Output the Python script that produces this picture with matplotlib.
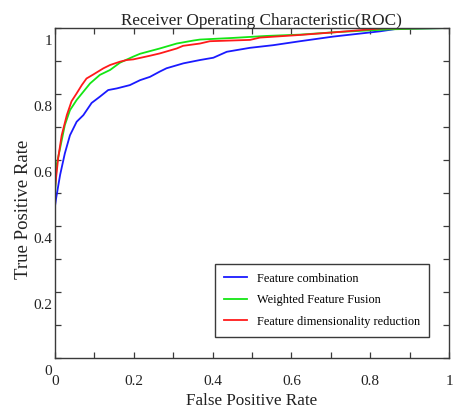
import numpy as np
import matplotlib
matplotlib.use('Agg')
import matplotlib.pyplot as plt
from matplotlib.transforms import ScaledTranslation

plt.rcParams['font.family'] = 'Liberation Serif'

# ROC points for each method
fpr_comb = [0, 0, 0.003, 0.013, 0.025, 0.038, 0.055, 0.072, 0.093, 0.114, 0.135, 0.157,
            0.19, 0.216, 0.241, 0.266, 0.283, 0.326, 0.368, 0.402, 0.436, 0.495, 0.554,
            0.622, 0.706, 0.825, 0.87, 1.0]
tpr_comb = [0, 0.46, 0.485, 0.555, 0.62, 0.675, 0.716, 0.736, 0.773, 0.792, 0.812, 0.817,
            0.827, 0.842, 0.852, 0.868, 0.878, 0.893, 0.903, 0.91, 0.928, 0.94, 0.948,
            0.96, 0.974, 0.99, 0.998, 1.0]

fpr_wff = [0, 0, 0.004, 0.013, 0.025, 0.038, 0.055, 0.072, 0.089, 0.114, 0.14, 0.157, 0.165,
           0.198, 0.216, 0.241, 0.266, 0.309, 0.351, 0.368, 0.452, 0.537, 0.622, 0.72, 0.85, 1.0]
tpr_wff = [0, 0.494, 0.585, 0.636, 0.706, 0.751, 0.782, 0.807, 0.832, 0.858, 0.873, 0.888, 0.895,
           0.913, 0.922, 0.93, 0.938, 0.953, 0.962, 0.965, 0.97, 0.976, 0.98, 0.988, 0.996, 1.0]

fpr_dim = [0, 0, 0.008, 0.017, 0.03, 0.042, 0.055, 0.068, 0.08, 0.097, 0.123, 0.14, 0.165,
           0.182, 0.199, 0.241, 0.266, 0.309, 0.325, 0.368, 0.393, 0.495, 0.52, 0.622, 0.72,
           0.83, 1.0]
tpr_dim = [0, 0.515, 0.605, 0.675, 0.736, 0.778, 0.802, 0.827, 0.847, 0.859, 0.878, 0.888, 0.898,
           0.903, 0.905, 0.916, 0.923, 0.938, 0.946, 0.953, 0.96, 0.964, 0.971, 0.979, 0.988,
           0.999, 1.0]

labels = ['Feature combination', 'Weighted Feature Fusion', 'Feature dimensionality reduction']
colors = ['#1a1aff', '#14e614', '#ff1a1a']

tick_vals = np.round(np.arange(0, 1.01, 0.1), 1)
tick_text = ['0', '', '0.2', '', '0.4', '', '0.6', '', '0.8', '', '1']

fig = plt.figure(figsize=(4.59, 4.12), dpi=100)
ax = fig.add_axes([0.1198, 0.131, 0.8584, 0.801])

for fpr, tpr, lab, col in zip([fpr_comb, fpr_wff, fpr_dim], [tpr_comb, tpr_wff, tpr_dim], labels, colors):
    ax.plot(fpr, tpr, color=col, lw=1.3, label=lab)

ax.set_xlim(0, 1)
ax.set_ylim(0, 1)
ax.set_xticks(tick_vals)
ax.set_xticklabels(tick_text)
ax.set_yticks(tick_vals)
ax.set_yticklabels(tick_text)

edge = '#3a3a3a'
for sp in ax.spines.values():
    sp.set_color(edge)
    sp.set_linewidth(1.0)
ax.tick_params(direction='in', length=4, width=0.9, color=edge, top=True, right=True,
               labelsize=11, labelcolor='#222222')
ax.tick_params(axis='x', pad=12)
ax.tick_params(axis='y', pad=2)

# y tick labels sit a little below their ticks
shift = ScaledTranslation(0, -11.5 / 100, fig.dpi_scale_trans)
for t in ax.get_yticklabels():
    t.set_transform(t.get_transform() + shift)

ax.set_title('Receiver Operating Characteristic(ROC)', fontsize=12.3, color='#222222',
             pad=2, x=0.525)
ax.set_xlabel('False Positive Rate', fontsize=12.3, color='#222222', labelpad=3.5)
ax.set_ylabel('True Positive Rate', fontsize=13.5, color='#222222')
ax.yaxis.set_label_coords(-0.058, 0.45)

leg = ax.legend(loc='lower right', bbox_to_anchor=(0.949, 0.064), fontsize=8.8,
                fancybox=False, framealpha=1, edgecolor=edge, borderpad=0.75,
                labelspacing=0.78, handlelength=1.9, handletextpad=0.75, borderaxespad=0)
leg.get_frame().set_linewidth(1.0)

fig.savefig('out.png', dpi=100)
